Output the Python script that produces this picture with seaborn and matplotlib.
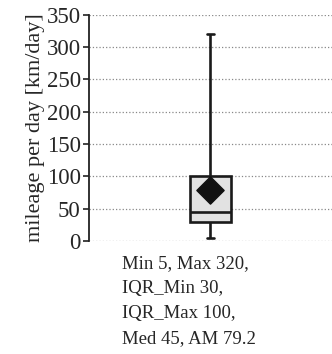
import numpy as np
import pandas as pd
import matplotlib
matplotlib.use("Agg")
import matplotlib.pyplot as plt
import seaborn as sns

# summary statistics of daily mileage (km/day)
stat_min = 5
stat_q1 = 30
stat_med = 45
stat_q3 = 100
stat_max = 320
stat_mean = 79.2
summary_text = ["Min 5, Max 320,", "IQR_Min 30,", "IQR_Max 100,", "Med 45, AM 79.2"]
yticks = [0, 50, 100, 150, 200, 250, 300, 350]

# five values whose quartiles reproduce the summary exactly
df = pd.DataFrame({"group": "all",
                   "mileage": [stat_min, stat_q1, stat_med, stat_q3, stat_max]})

sns.set_style("white")
plt.rcParams['font.family'] = ['Liberation Serif', 'DejaVu Serif']

fig = plt.figure(figsize=(3.32, 3.54), dpi=100)
ax = fig.add_axes([0.268, 0.319, 0.732, 0.639])

sns.boxplot(data=df, x="group", y="mileage", ax=ax, whis=(0, 100), width=0.17,
            color="#e2e2e2", linecolor="#1a1a1a", linewidth=1.9, saturation=1)

# narrow the whisker caps
for ln in ax.lines:
    xd = np.asarray(ln.get_xdata(), dtype=float)
    yd = np.asarray(ln.get_ydata(), dtype=float)
    if len(yd) == 2 and yd[0] == yd[1] and yd[0] in (stat_min, stat_max):
        c = xd.mean()
        ln.set_xdata([c - 0.016, c + 0.016])

sns.scatterplot(x=["all"], y=[stat_mean], marker="D", s=190, color="#111111",
                edgecolor="#111111", ax=ax, zorder=5)

ax.set_xlim(-0.5, 0.5)
ax.set_ylim(0, 350)
ax.set_yticks(yticks)
ax.set_xticks([])
ax.set_xlabel("")
ax.set_ylabel("mileage per day [km/day]", fontsize=16, labelpad=1)
ax.tick_params(axis="y", labelsize=16.5, length=4.5, width=1.2, color="#222222", pad=1.5, left=True)
ax.yaxis.grid(True, linestyle=":", color="#888888", linewidth=0.9)
ax.set_axisbelow(True)
for side in ["top", "right", "bottom"]:
    ax.spines[side].set_visible(False)
ax.spines["left"].set_color("#222222")
ax.spines["left"].set_linewidth(1.3)

for i, line in enumerate(summary_text):
    fig.text(0.367, 1 - (268 + 25 * i) / 354, line, fontsize=13.5, va="baseline", ha="left")

fig.savefig("out.png", dpi=100)
